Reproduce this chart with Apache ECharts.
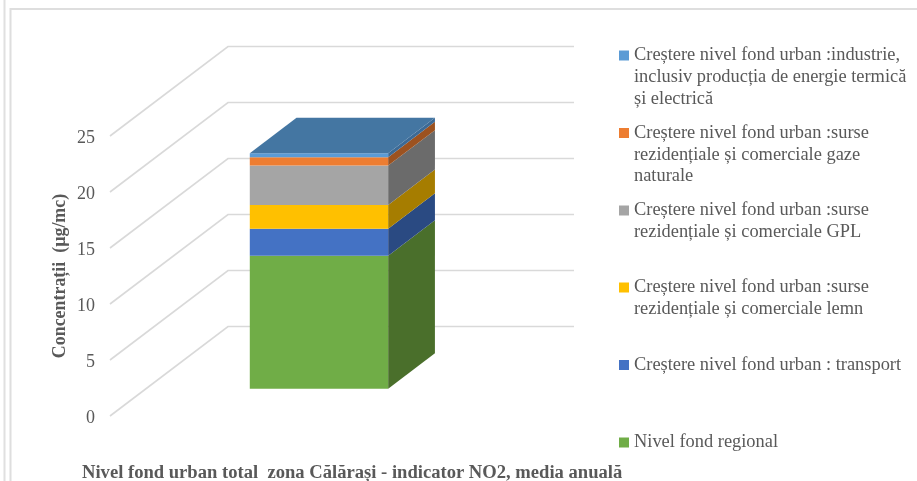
<!DOCTYPE html>
<html><head><meta charset="utf-8">
<style>html,body{margin:0;padding:0;background:#fff}#c{width:917px;height:481px}</style>
<script src="https://cdn.jsdelivr.net/npm/echarts@6/dist/echarts.min.js"></script>
</head><body><div id="c"></div>
<script>
const categories = ['Călărași'];
const yTicks = [0, 5, 10, 15, 20, 25];
const seriesNames = [
  'Nivel fond regional',
  'Creștere nivel fond urban : transport',
  'Creștere nivel fond urban :surse rezidențiale și comerciale lemn',
  'Creștere nivel fond urban :surse rezidențiale și comerciale GPL',
  'Creștere nivel fond urban :surse rezidențiale și comerciale gaze naturale',
  'Creștere nivel fond urban :industrie, inclusiv producția de energie termică și electrică'
];
const seriesValues = [11.88, 2.41, 2.12, 3.51, 0.75, 0.36];
const legendLines = [
  ['Nivel fond regional'],
  ['Creștere nivel fond urban : transport'],
  ['Creștere nivel fond urban :surse', 'rezidențiale și comerciale lemn'],
  ['Creștere nivel fond urban :surse', 'rezidențiale și comerciale GPL'],
  ['Creștere nivel fond urban :surse', 'rezidențiale și comerciale gaze', 'naturale'],
  ['Creștere nivel fond urban :industrie,', 'inclusiv producția de energie termică', 'și electrică']
];
const legendIconY = [442.5, 365, 287.5, 210.5, 133, 55.5];
const frontColors = ['#70AD47', '#4472C4', '#FFC000', '#A5A5A5', '#ED7D31', '#5B9BD5'];
const sideColors = ['#4A6F2B', '#2A4A82', '#A67D00', '#6B6B6B', '#9C5220', '#3C6A96'];
const topColor = '#4476A2';
const titleText = 'Nivel fond urban total  zona Călărași - indicator NO2, media anuală';
const yName = 'Concentrații  (µg/mc)';

const FONT = '"Liberation Serif","Times New Roman",serif';
const DX = 118, DY = -89.5;          // depth vector of the 3D floor
const FRONT = 0.305, THICK = 0.396;  // bar position within the depth

function gridItem(params, api) {
  const p = api.coord([0, api.value(1)]);
  const r = params.coordSys;
  const x0 = r.x, x1 = r.x + DX, y1 = p[1] + DY;
  return { type: 'polyline', shape: { points: [[x0, p[1]], [x1, y1], [x1 + r.width, y1]] },
    style: { stroke: '#d9d9d9', lineWidth: 1.6, fill: null }, silent: true };
}
function barItem(idx) {
  return function (params, api) {
    const cx = api.coord([0, 0])[0];
    const w = api.size([1, 0])[0] * 0.4;
    const yA = api.coord([0, api.value(1)])[1] + DY * FRONT;
    const yB = api.coord([0, api.value(2)])[1] + DY * FRONT;
    const xL = cx - w / 2 + DX * FRONT, xR = xL + w;
    const dx = DX * THICK, dy = DY * THICK;
    const kids = [
      { type: 'rect', shape: { x: xL, y: yB, width: w, height: yA - yB }, style: { fill: frontColors[idx] } },
      { type: 'polygon', shape: { points: [[xR, yA], [xR + dx, yA + dy], [xR + dx, yB + dy], [xR, yB]] }, style: { fill: sideColors[idx] } }
    ];
    if (idx === seriesValues.length - 1) {
      kids.push({ type: 'polygon', shape: { points: [[xL, yB], [xL + dx, yB + dy], [xR + dx, yB + dy], [xR, yB]] }, style: { fill: topColor } });
    }
    return { type: 'group', children: kids };
  };
}
let acc = 0;
const stacks = seriesValues.map(v => { const s = [0, acc, acc + v]; acc += v; return s; });

const LH = 21.7;
const legends = seriesNames.map((n, i) => {
  const k = legendLines[i].length;
  const total = 2 * k - 1;
  return {
    data: [n], left: 619, top: legendIconY[i] - (total * LH) / 2,
    orient: 'vertical', icon: 'rect', itemWidth: 10, itemHeight: 10, padding: 0, selectedMode: false,
    formatter: () => '\n'.repeat(k - 1) + legendLines[i].join('\n'),
    textStyle: { fontFamily: FONT, fontSize: 18.4, color: '#595959', lineHeight: LH }
  };
});

const chart = echarts.init(document.getElementById('c'));
chart.setOption({
  animation: false,
  backgroundColor: '#fff',
  title: { text: titleText, left: 82, top: 464, padding: 0,
    textStyle: { fontFamily: FONT, fontSize: 18.6, fontWeight: 'bold', color: '#595959' } },
  legend: legends,
  grid: { left: 110, top: 136, width: 346, height: 280 },
  xAxis: { type: 'category', data: categories, show: false },
  yAxis: { type: 'value', min: 0, max: 25, interval: 5,
    name: yName, nameLocation: 'middle', nameRotate: 90, nameGap: 41,
    nameTextStyle: { fontFamily: FONT, fontSize: 17.9, fontWeight: 'bold', color: '#595959' },
    axisLine: { show: false }, axisTick: { show: false }, splitLine: { show: false },
    axisLabel: { fontFamily: FONT, fontSize: 18, color: '#595959', margin: 15, verticalAlign: 'top', lineHeight: 18, padding: [-7, 0, 0, 0] } },
  graphic: [
    { type: 'line', shape: { x1: 4.5, y1: 0, x2: 4.5, y2: 481 }, style: { stroke: '#e0e0e0', lineWidth: 2 }, silent: true },
    { type: 'polyline', shape: { points: [[10.5, 481], [10.5, 9], [917, 9]] }, style: { stroke: '#dedede', lineWidth: 2, fill: null }, silent: true }
  ],
  series: [
    { type: 'custom', name: 'grid', silent: true, z: 1, renderItem: gridItem,
      data: yTicks.map(t => [0, t]), encode: { x: 0, y: 1 } }
  ].concat(seriesNames.map((n, i) => ({
    type: 'custom', name: n, z: 2 + i, renderItem: barItem(i), silent: true,
    itemStyle: { color: frontColors[i] },
    data: [stacks[i]], encode: { x: 0, y: [1, 2] }
  })))
});
</script></body></html>
